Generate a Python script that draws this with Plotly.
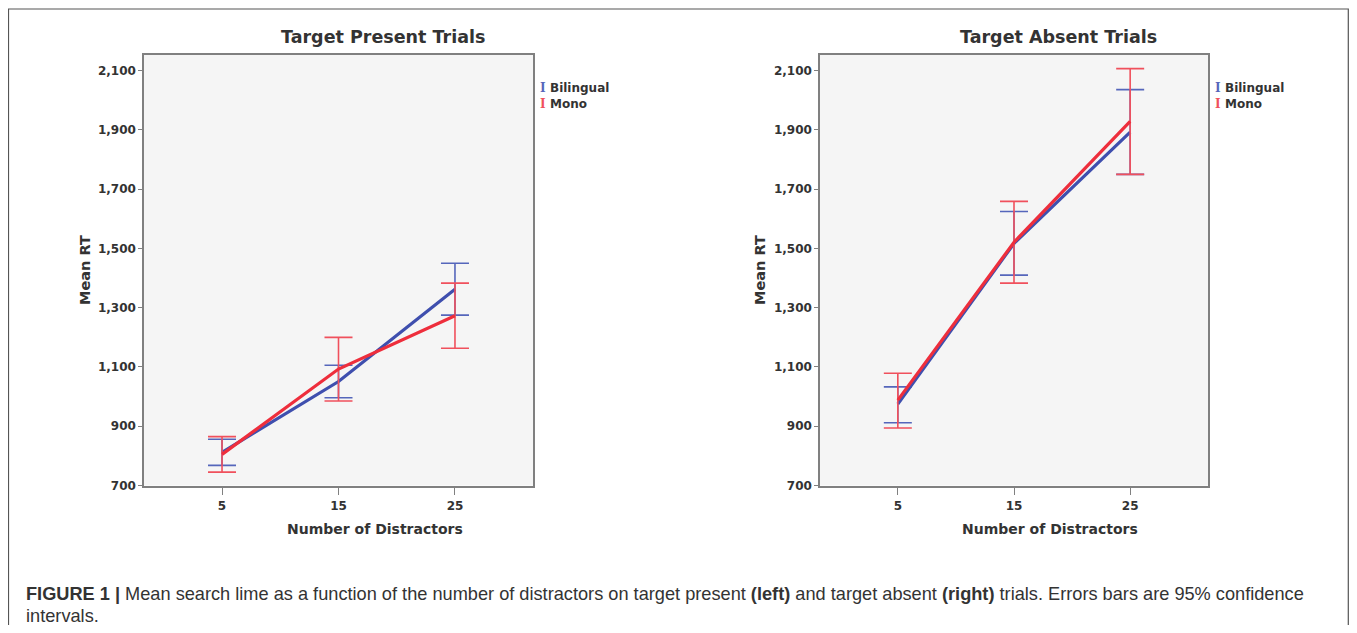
import plotly.graph_objects as go

# ---------------- data ----------------
distractors = [5, 15, 25]
tick_vals_y = [700, 900, 1100, 1300, 1500, 1700, 1900, 2100]
tick_text_y = ["700", "900", "1,100", "1,300", "1,500", "1,700", "1,900", "2,100"]

# Target present
bil_present_mean = [812, 1051, 1362]
bil_present_lo = [768, 996, 1275]
bil_present_hi = [856, 1106, 1450]
mono_present_mean = [805, 1093, 1273]
mono_present_lo = [745, 985, 1163]
mono_present_hi = [865, 1200, 1383]

# Target absent
bil_absent_mean = [975, 1517, 1893]
bil_absent_lo = [912, 1410, 1750]
bil_absent_hi = [1033, 1625, 2036]
mono_absent_mean = [988, 1521, 1929]
mono_absent_lo = [894, 1383, 1750]
mono_absent_hi = [1079, 1659, 2107]

BLUE = "#3f4fae"
BLUE_EB = "#5566bb"
RED = "#ee2e3c"
RED_EB = "#f0505c"
OFF = 8  # page body margin offset
W, H = 1357 - 2 * OFF, 633 - 2 * OFF


def fx(x):
    return (x - OFF) / W


def fy(y):
    return 1 - (y - OFF) / H


fig = go.Figure()


def add_series(mean, lo, hi, color, ebcolor, xa, ya, name):
    fig.add_trace(go.Scatter(
        x=distractors, y=mean, mode="lines", name=name,
        line=dict(color=color, width=3.2),
        error_y=dict(type="data", symmetric=False,
                     array=[h - m for h, m in zip(hi, mean)],
                     arrayminus=[m - l for m, l in zip(mean, lo)],
                     color=ebcolor, thickness=1.6, width=14),
        xaxis=xa, yaxis=ya, showlegend=False, hoverinfo="skip"))


add_series(bil_present_mean, bil_present_lo, bil_present_hi, BLUE, BLUE_EB, "x", "y", "Bilingual")
add_series(mono_present_mean, mono_present_lo, mono_present_hi, RED, RED_EB, "x", "y", "Mono")
add_series(bil_absent_mean, bil_absent_lo, bil_absent_hi, BLUE, BLUE_EB, "x2", "y2", "Bilingual")
add_series(mono_absent_mean, mono_absent_lo, mono_absent_hi, RED, RED_EB, "x2", "y2", "Mono")

ydom = [fy(485.5), fy(55)]
tickfont = dict(family="DejaVu Sans", size=12, color="#333333")
axis_common = dict(showline=True, linecolor="#808080", linewidth=1.5, mirror=True,
                   showgrid=False, zeroline=False, ticks="outside", tickcolor="#808080",
                   tickfont=tickfont)

xrange = [5 - 6.7, 25 + 6.7]
yrange = [700, 2153]

fig.update_layout(
    width=W, height=H,
    margin=dict(l=0, r=0, t=0, b=0, autoexpand=False),
    paper_bgcolor="white",
    plot_bgcolor="#f5f5f5",
    xaxis=dict(domain=[fx(144), fx(533)], range=xrange, tickvals=distractors,
               ticktext=["<b>5</b>", "<b>15</b>", "<b>25</b>"], ticklen=8, anchor="y", **axis_common),
    yaxis=dict(domain=ydom, range=yrange, tickvals=tick_vals_y,
               ticktext=["<b>%s</b>" % t for t in tick_text_y], ticklen=4, anchor="x", **axis_common),
    xaxis2=dict(domain=[fx(820), fx(1208)], range=xrange, tickvals=distractors,
                ticktext=["<b>5</b>", "<b>15</b>", "<b>25</b>"], ticklen=8, anchor="y2", **axis_common),
    yaxis2=dict(domain=ydom, range=yrange, tickvals=tick_vals_y,
                ticktext=["<b>%s</b>" % t for t in tick_text_y], ticklen=4, anchor="x2", **axis_common),
)


def px_ann(x, y, text, size, xanchor="center", color="#333333", family="DejaVu Sans", angle=0):
    fig.add_annotation(x=fx(x), y=fy(y), xref="paper", yref="paper", text=text,
                       showarrow=False, xanchor=xanchor, yanchor="middle", textangle=angle,
                       font=dict(family=family, size=size, color=color))


# panel titles and axis titles
for cx, title, lx, yx in [(383, "Target Present Trials", 538, 85), (1058, "Target Absent Trials", 1213, 760)]:
    px_ann(cx, 37, "<b>%s</b>" % title, 17.5)
    px_ann(cx - 8, 529, "<b>Number of Distractors</b>", 14)
    px_ann(yx, 270, "<b>Mean RT</b>", 14.5, angle=-90)
    # legend
    px_ann(lx, 88, "<b>I</b>", 12, xanchor="left", color=BLUE_EB, family="DejaVu Serif")
    px_ann(lx + 10, 88, "<b>Bilingual</b>", 12, xanchor="left")
    px_ann(lx, 104, "<b>I</b>", 12, xanchor="left", color=RED_EB, family="DejaVu Serif")
    px_ann(lx + 10, 104, "<b>Mono</b>", 12, xanchor="left")

# caption
cap_font = "Liberation Sans"
px_ann(24, 594, "<b>FIGURE 1 |</b> Mean search lime as a function of the number of distractors on target present "
       "<b>(left)</b> and target absent <b>(right)</b> trials. Errors bars are 95% confidence",
       18.2, xanchor="left", family=cap_font)
px_ann(24, 616, "intervals.", 18.2, xanchor="left", family=cap_font)

# outer frame
fig.add_shape(type="rect", xref="paper", yref="paper", x0=fx(8.5), x1=fx(1348.3), y0=-0.05, y1=fy(9),
              line=dict(color="#555555", width=1.2), fillcolor="rgba(0,0,0,0)")

fig.write_html("out.html")
